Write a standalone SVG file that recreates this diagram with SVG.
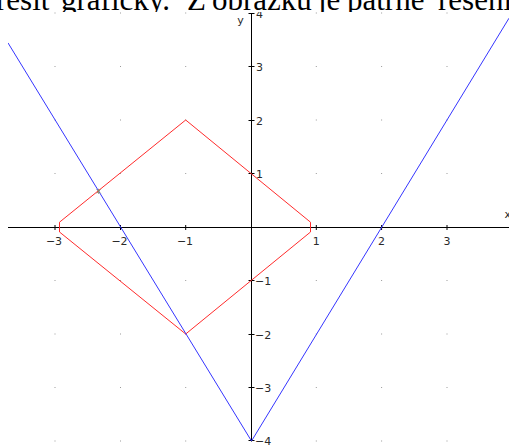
<svg xmlns="http://www.w3.org/2000/svg" width="509" height="446" viewBox="0 0 509 446">
  <defs>
    <style>
      .head { font-family: "Liberation Serif", "Times New Roman", serif; font-size: 31px; fill: #000; }
      .lbl { font-family: "DejaVu Sans", "Liberation Sans", sans-serif; font-size: 11px; fill: #2a2a2a; }
      .axis { stroke: #000; stroke-width: 1; fill: none; }
      .tick { stroke: #000; stroke-width: 1; }
      .dot { fill: #9a9a9a; }
      .red { stroke: #ff2b2b; stroke-width: 1; fill: none; stroke-linejoin: round; }
      .blue { stroke: #3535ff; stroke-width: 1; fill: none; stroke-linejoin: round; }
    </style>
    <clipPath id="plotclip">
      <rect x="8" y="12" width="501" height="434"/>
    </clipPath>
  </defs>

  <rect x="0" y="0" width="509" height="446" fill="#fff"/>

  <g id="heading">
    <text class="head" y="9.5"><tspan x="-4">řešit</tspan><tspan x="61">graficky.</tspan><tspan x="187">Z</tspan><tspan x="212">obrázku</tspan><tspan x="318">je</tspan><tspan x="347">patrné</tspan><tspan x="438">řešení</tspan></text>
  </g>

  <g id="plot" clip-path="url(#plotclip)">
    <rect x="8" y="12" width="501" height="434" fill="#fff"/>

    <g id="grid">
      <rect class="dot" x="54.5" y="12.5" width="1" height="1"/>
      <rect class="dot" x="120" y="12.5" width="1" height="1"/>
      <rect class="dot" x="185.2" y="12.5" width="1" height="1"/>
      <rect class="dot" x="315.8" y="12.5" width="1" height="1"/>
      <rect class="dot" x="381.1" y="12.5" width="1" height="1"/>
      <rect class="dot" x="446.5" y="12.5" width="1" height="1"/>

      <rect class="dot" x="54.5" y="66" width="1" height="1"/>
      <rect class="dot" x="120" y="66" width="1" height="1"/>
      <rect class="dot" x="185.2" y="66" width="1" height="1"/>
      <rect class="dot" x="315.8" y="66" width="1" height="1"/>
      <rect class="dot" x="381.1" y="66" width="1" height="1"/>
      <rect class="dot" x="446.5" y="66" width="1" height="1"/>

      <rect class="dot" x="54.5" y="119.5" width="1" height="1"/>
      <rect class="dot" x="120" y="119.5" width="1" height="1"/>
      <rect class="dot" x="185.2" y="119.5" width="1" height="1"/>
      <rect class="dot" x="315.8" y="119.5" width="1" height="1"/>
      <rect class="dot" x="381.1" y="119.5" width="1" height="1"/>
      <rect class="dot" x="446.5" y="119.5" width="1" height="1"/>

      <rect class="dot" x="54.5" y="173" width="1" height="1"/>
      <rect class="dot" x="120" y="173" width="1" height="1"/>
      <rect class="dot" x="185.2" y="173" width="1" height="1"/>
      <rect class="dot" x="315.8" y="173" width="1" height="1"/>
      <rect class="dot" x="381.1" y="173" width="1" height="1"/>
      <rect class="dot" x="446.5" y="173" width="1" height="1"/>

      <rect class="dot" x="54.5" y="280" width="1" height="1"/>
      <rect class="dot" x="120" y="280" width="1" height="1"/>
      <rect class="dot" x="185.2" y="280" width="1" height="1"/>
      <rect class="dot" x="315.8" y="280" width="1" height="1"/>
      <rect class="dot" x="381.1" y="280" width="1" height="1"/>
      <rect class="dot" x="446.5" y="280" width="1" height="1"/>

      <rect class="dot" x="54.5" y="333.5" width="1" height="1"/>
      <rect class="dot" x="120" y="333.5" width="1" height="1"/>
      <rect class="dot" x="185.2" y="333.5" width="1" height="1"/>
      <rect class="dot" x="315.8" y="333.5" width="1" height="1"/>
      <rect class="dot" x="381.1" y="333.5" width="1" height="1"/>
      <rect class="dot" x="446.5" y="333.5" width="1" height="1"/>

      <rect class="dot" x="54.5" y="387" width="1" height="1"/>
      <rect class="dot" x="120" y="387" width="1" height="1"/>
      <rect class="dot" x="185.2" y="387" width="1" height="1"/>
      <rect class="dot" x="315.8" y="387" width="1" height="1"/>
      <rect class="dot" x="381.1" y="387" width="1" height="1"/>
      <rect class="dot" x="446.5" y="387" width="1" height="1"/>

      <rect class="dot" x="54.5" y="440.5" width="1" height="1"/>
      <rect class="dot" x="120" y="440.5" width="1" height="1"/>
      <rect class="dot" x="185.2" y="440.5" width="1" height="1"/>
      <rect class="dot" x="315.8" y="440.5" width="1" height="1"/>
      <rect class="dot" x="381.1" y="440.5" width="1" height="1"/>
      <rect class="dot" x="446.5" y="440.5" width="1" height="1"/>
    </g>

    <g id="axes">
      <line class="axis" x1="8" y1="227.5" x2="509" y2="227.5"/>
      <line class="axis" x1="251.5" y1="13" x2="251.5" y2="441.5"/>
      <g id="x-ticks">
        <line class="tick" x1="55" y1="225" x2="55" y2="230"/>
        <line class="tick" x1="120.5" y1="225" x2="120.5" y2="230"/>
        <line class="tick" x1="185.7" y1="225" x2="185.7" y2="230"/>
        <line class="tick" x1="316.3" y1="225" x2="316.3" y2="230"/>
        <line class="tick" x1="381.6" y1="225" x2="381.6" y2="230"/>
        <line class="tick" x1="447" y1="225" x2="447" y2="230"/>
      </g>
      <g id="y-ticks">
        <line class="tick" x1="248.5" y1="13.5" x2="254.5" y2="13.5"/>
        <line class="tick" x1="248.5" y1="66.5" x2="254.5" y2="66.5"/>
        <line class="tick" x1="248.5" y1="120.5" x2="254.5" y2="120.5"/>
        <line class="tick" x1="248.5" y1="173.5" x2="254.5" y2="173.5"/>
        <line class="tick" x1="248.5" y1="280.5" x2="254.5" y2="280.5"/>
        <line class="tick" x1="248.5" y1="334.5" x2="254.5" y2="334.5"/>
        <line class="tick" x1="248.5" y1="387.5" x2="254.5" y2="387.5"/>
        <line class="tick" x1="248.5" y1="440.5" x2="254.5" y2="440.5"/>
      </g>
      <g id="x-labels">
        <text class="lbl" x="54" y="244.5" text-anchor="middle">−3</text>
        <text class="lbl" x="119.5" y="244.5" text-anchor="middle">−2</text>
        <text class="lbl" x="185" y="244.5" text-anchor="middle">−1</text>
        <text class="lbl" x="316.3" y="244.5" text-anchor="middle">1</text>
        <text class="lbl" x="381.6" y="244.5" text-anchor="middle">2</text>
        <text class="lbl" x="447" y="244.5" text-anchor="middle">3</text>
        <text class="lbl" x="504.5" y="217.5">x</text>
      </g>
      <g id="y-labels">
        <text class="lbl" x="256" y="17.5">4</text>
        <text class="lbl" x="256" y="70.5">3</text>
        <text class="lbl" x="256" y="124.5">2</text>
        <text class="lbl" x="256" y="177.5">1</text>
        <text class="lbl" x="255" y="284.5">−1</text>
        <text class="lbl" x="255" y="338.5">−2</text>
        <text class="lbl" x="255" y="391.5">−3</text>
        <text class="lbl" x="255" y="445">−4</text>
        <text class="lbl" x="240.5" y="23.5" text-anchor="middle">y</text>
      </g>
    </g>

    <g id="curves">
      <path id="diamond" class="red" d="M185.7,120 L310.5,222.2 L310.5,232 L185.7,334 L59.5,232 L59.5,222.2 Z"/>
      <path id="vshape" class="blue" d="M8,42.9 L251.5,441 L509,18.2"/>
    </g>

    <g id="intersection">
      <path d="M96.6,189.3 L100.6,193.3 M96.6,193.3 L100.6,189.3 M98.6,188.8 L98.6,193.8" stroke="#8c8c6a" stroke-width="1" fill="none"/>
    </g>
  </g>
</svg>
